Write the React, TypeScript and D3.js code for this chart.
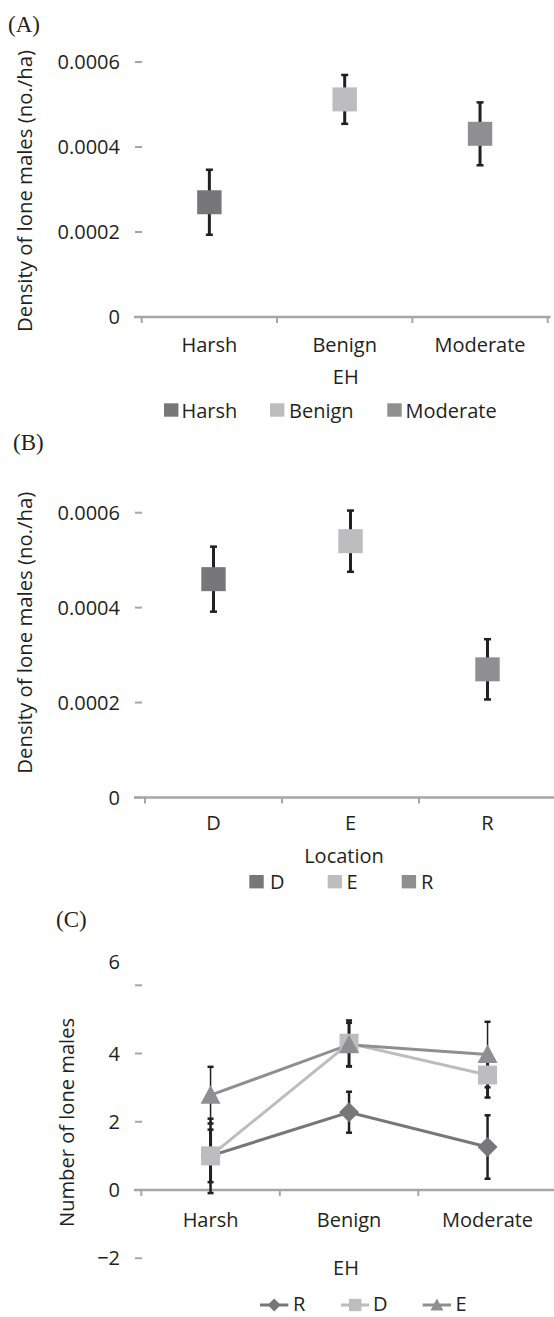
import React, { useRef, useEffect } from "react";
import * as d3 from "d3";

// panel A: density by EH
const ehCategories = ["Harsh", "Benign", "Moderate"];
const ehDensity = [0.00027, 0.000512, 0.000431];
const ehDensityErr = [0.0000765, 0.0000575, 0.000074];

// panel B: density by location
const locationCategories = ["D", "E", "R"];
const locationDensity = [0.00046, 0.00054, 0.00027];
const locationDensityErr = [0.0000685, 0.0000645, 0.0000635];

const densityTicks = [0, 0.0002, 0.0004, 0.0006];

// panel C: number of lone males by EH, one line per location
const lineSeriesNames = ["R", "D", "E"];
const loneMalesR = [1.0, 2.28, 1.26];
const loneMalesRErr = [1.09, 0.6, 0.93];
const loneMalesD = [1.0, 4.3, 3.37];
const loneMalesDErr = [0.77, 0.67, 0.66];
const loneMalesE = [2.78, 4.26, 3.97];
const loneMalesEErr = [0.83, 0.64, 0.96];
const countTicks = [-2, 0, 2, 4, 6];

const DARK = "#77777a";
const LIGHT = "#bdbdbf";
const MID = "#8f8f91";
const AXIS = "#a6a6a6";
const INK = "#231f20";
const FONT = "'Open Sans', sans-serif";
const SERIF = "'Liberation Serif', 'Times New Roman', serif";

const W = 554;
const H = 1317;

const App = () => {
  const svgRef = useRef(null);

  useEffect(() => {
    const svg = d3.select(svgRef.current);
    svg.selectAll("*").remove();

    const txt = (x, y, s, anchor = "start", size = 20) =>
      svg.append("text")
        .attr("x", x).attr("y", y)
        .attr("text-anchor", anchor)
        .attr("font-family", FONT)
        .attr("font-size", size)
        .attr("fill", INK)
        .text(s);

    const panelLetter = (x, y, s) =>
      svg.append("text")
        .attr("x", x).attr("y", y)
        .attr("font-family", SERIF)
        .attr("font-size", 23)
        .attr("fill", INK)
        .text(s);

    const yTitle = (x, y, s, len) =>
      svg.append("text")
        .attr("transform", `translate(${x},${y}) rotate(-90)`)
        .attr("text-anchor", "middle")
        .attr("font-family", FONT)
        .attr("font-size", 20)
        .attr("fill", INK)
        .attr("textLength", len)
        .attr("lengthAdjust", "spacingAndGlyphs")
        .text(s);

    // y ticks: short gray dashes, no vertical axis line
    const yTicks = (yScale, ticks, fmt, topShift = 0) => {
      ticks.forEach((t, i) => {
        svg.append("line")
          .attr("x1", 135).attr("x2", 142)
          .attr("y1", yScale(t)).attr("y2", yScale(t))
          .attr("stroke", AXIS).attr("stroke-width", 2);
        const shift = i === ticks.length - 1 ? topShift : 0;
        txt(120, yScale(t) + 7 + shift, fmt(t), "end");
      });
    };

    // category axis along y = 0
    const xAxis = (xScale, y0, cats, labelY) => {
      const [r0, r1] = xScale.range();
      svg.append("line")
        .attr("x1", 134).attr("x2", r1 + 3)
        .attr("y1", y0).attr("y2", y0)
        .attr("stroke", AXIS).attr("stroke-width", 2.5);
      const bounds = cats.map(c => xScale(c)).concat([r1]);
      bounds.forEach(b => {
        svg.append("line")
          .attr("x1", b).attr("x2", b)
          .attr("y1", y0).attr("y2", y0 + 6)
          .attr("stroke", AXIS).attr("stroke-width", 2);
      });
      cats.forEach(c => txt(xScale(c) + xScale.bandwidth() / 2, labelY, c, "middle"));
    };

    const errorBar = (x, yLo, yHi, w, capW) => {
      const g = svg.append("g").attr("stroke", INK);
      g.append("line").attr("x1", x).attr("x2", x).attr("y1", yLo).attr("y2", yHi).attr("stroke-width", w);
      [yLo, yHi].forEach(yy =>
        g.append("line").attr("x1", x - capW / 2).attr("x2", x + capW / 2)
          .attr("y1", yy).attr("y2", yy).attr("stroke-width", 2.5));
    };

    const densityFmt = t => (t === 0 ? "0" : t.toFixed(4));
    const colors3 = [DARK, LIGHT, MID];

    const dotPanel = (cfg) => {
      const { cats, vals, errs, y0, yTop, xRange, labelY, legend } = cfg;
      const y = d3.scaleLinear().domain([0, 0.0006]).range([y0, yTop]);
      const x = d3.scaleBand().domain(cats).range(xRange);
      yTicks(y, densityTicks, densityFmt);
      xAxis(x, y0, cats, labelY);
      cats.forEach((c, i) => {
        const cx = x(c) + x.bandwidth() / 2;
        errorBar(cx, y(vals[i] - errs[i]), y(vals[i] + errs[i]), 3, 7);
        svg.append("rect")
          .attr("x", cx - 12.2).attr("y", y(vals[i]) - 12)
          .attr("width", 24.4).attr("height", 24)
          .attr("fill", colors3[i]);
      });
      cats.forEach((c, i) => {
        svg.append("rect")
          .attr("x", legend.sq[i]).attr("y", legend.top)
          .attr("width", 14.4).attr("height", 13.4)
          .attr("fill", colors3[i]);
        txt(legend.tx[i], legend.base, c);
      });
    };

    // ---- panel A
    panelLetter(8, 32, "(A)");
    yTitle(31.5, 191, "Density of lone males (no./ha)", 282);
    dotPanel({
      cats: ehCategories, vals: ehDensity, errs: ehDensityErr,
      y0: 317, yTop: 62, xRange: [141.7, 547.7], labelY: 352,
      legend: { sq: [164, 270, 387.3], tx: [181.5, 289, 405.5], top: 403.3, base: 418 },
    });
    txt(345.7, 384, "EH", "middle");

    // ---- panel B
    panelLetter(13, 450, "(B)");
    yTitle(31.5, 632.7, "Density of lone males (no./ha)", 282);
    dotPanel({
      cats: locationCategories, vals: locationDensity, errs: locationDensityErr,
      y0: 797.5, yTop: 512.7, xRange: [145, 556], labelY: 830,
      legend: { sq: [249.3, 327.7, 401.7], tx: [270, 346.5, 421], top: 875, base: 889 },
    });
    txt(344, 862.5, "Location", "middle");

    // ---- panel C
    panelLetter(56, 927, "(C)");
    yTitle(74, 1122.5, "Number of lone males", 209);
    const yC = d3.scaleLinear().domain([0, 6]).range([1190, 985.3]);
    const xC = d3.scaleBand().domain(ehCategories).range([141.3, 556.8]);
    yTicks(yC, countTicks, d3.format("d"), -23.5);
    xAxis(xC, yC(0), ehCategories, 1227);
    txt(346, 1275, "EH", "middle");

    const series = [
      { name: lineSeriesNames[0], vals: loneMalesR, errs: loneMalesRErr, color: DARK, shape: "diamond", barW: 2.5 },
      { name: lineSeriesNames[1], vals: loneMalesD, errs: loneMalesDErr, color: LIGHT, shape: "square", barW: 3 },
      { name: lineSeriesNames[2], vals: loneMalesE, errs: loneMalesEErr, color: MID, shape: "triangle", barW: 1.5 },
    ];
    const shapePath = (shape, cx, cy, s) => {
      if (shape === "diamond") return `M${cx},${cy - s}L${cx + s},${cy}L${cx},${cy + s}L${cx - s},${cy}Z`;
      if (shape === "square") return `M${cx - s * 0.95},${cy - s * 0.95}h${s * 1.9}v${s * 1.9}h${-s * 1.9}Z`;
      return `M${cx},${cy - s}L${cx + s},${cy + s * 0.85}L${cx - s},${cy + s * 0.85}Z`;
    };
    const cxC = c => xC(c) + xC.bandwidth() / 2;
    const line = d3.line().x(d => d[0]).y(d => d[1]);

    series.forEach(s => {
      svg.append("path")
        .attr("d", line(ehCategories.map((c, i) => [cxC(c), yC(s.vals[i])])))
        .attr("fill", "none").attr("stroke", s.color).attr("stroke-width", 3);
    });
    series.forEach(s => {
      ehCategories.forEach((c, i) =>
        errorBar(cxC(c), yC(s.vals[i] - s.errs[i]), yC(s.vals[i] + s.errs[i]), s.barW, 6));
    });
    series.forEach(s => {
      ehCategories.forEach((c, i) =>
        svg.append("path").attr("d", shapePath(s.shape, cxC(c), yC(s.vals[i]), 10)).attr("fill", s.color));
    });

    // legend C (kept just inside the bottom edge)
    const legC = [[260, 293], [341, 373], [422.7, 455.5]];
    const legY = 1305;
    series.forEach((s, i) => {
      const [lx, tx] = legC[i];
      svg.append("line").attr("x1", lx).attr("x2", lx + 28.3)
        .attr("y1", legY).attr("y2", legY)
        .attr("stroke", s.color).attr("stroke-width", 3);
      svg.append("path").attr("d", shapePath(s.shape, lx + 14.2, legY, 6.5)).attr("fill", s.color);
      txt(tx, legY + 6.3, s.name);
    });
  }, []);

  return (
    <svg ref={svgRef} width={W} height={H}
      style={{ position: "absolute", left: 0, top: 0, background: "#fff" }} />
  );
};

export default App;
